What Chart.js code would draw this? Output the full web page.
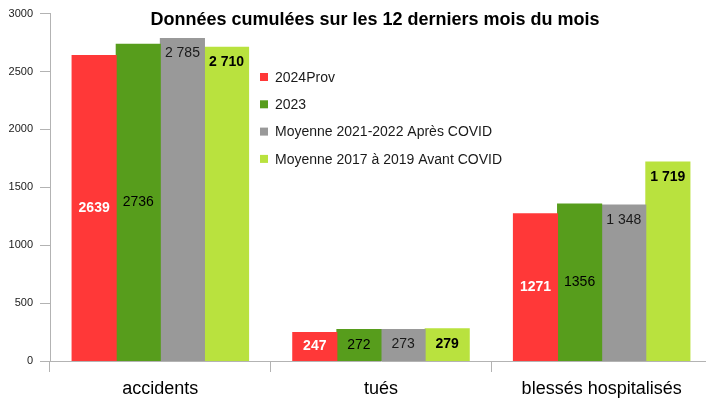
<!DOCTYPE html>
<html>
<head>
<meta charset="utf-8">
<script src="https://cdn.jsdelivr.net/npm/chart.js@4"></script>
<style>
  html, body { margin: 0; padding: 0; background: #fff; overflow: hidden; }
  #wrap { width: 712px; height: 401px; position: relative; }
</style>
</head>
<body>
<div id="wrap"><canvas id="c"></canvas></div>
<script>
// données
var categories = ['accidents', 'tués', 'blessés hospitalisés'];
var seriesNames = ['2024Prov', '2023', 'Moyenne 2021-2022 Après COVID', 'Moyenne 2017 à 2019 Avant COVID'];
var v2024 = [2639, 247, 1271];
var v2023 = [2736, 272, 1356];
var vMoy2122 = [2785, 273, 1348];
var vMoy1719 = [2710, 279, 1719];
var yTicks = [0, 500, 1000, 1500, 2000, 2500, 3000];

var colors = ['#ff3838', '#579d1c', '#999999', '#b9e23e'];
var FONT = '"Liberation Sans", Arial, sans-serif';

// style des étiquettes par série : pos 'mid' = milieu de barre, 'top' = sous le haut
var labelStyle = [
  { pos: 'mid', color: '#ffffff', bold: true, sep: false },
  { pos: 'mid', color: '#000000', bold: false, sep: false },
  { pos: 'top', color: '#1a1a1a', bold: false, sep: true },
  { pos: 'top', color: '#000000', bold: true, sep: true }
];

function fmt(n, sep) {
  var s = String(n);
  return sep ? s.replace(/\B(?=(\d{3})+(?!\d))/g, ' ') : s;
}

var overlay = {
  id: 'overlay',
  afterDatasetsDraw: function(chart) {
    var ctx = chart.ctx;
    ctx.save();
    ctx.textAlign = 'center';
    ctx.textBaseline = 'middle';
    chart.data.datasets.forEach(function(ds, i) {
      var st = labelStyle[i];
      chart.getDatasetMeta(i).data.forEach(function(el, j) {
        var y = st.pos === 'mid' ? (el.y + el.base) / 2 : el.y + 15;
        ctx.font = (st.bold ? 'bold ' : '') + '14px ' + FONT;
        ctx.fillStyle = st.color;
        ctx.fillText(fmt(ds.data[j], st.sep), el.x, y);
      });
    });

    // titre
    ctx.font = 'bold 18px ' + FONT;
    ctx.fillStyle = '#000';
    ctx.fillText('Données cumulées sur les 12 derniers mois du mois', 375, 20);

    // légende
    ctx.textAlign = 'left';
    ctx.font = '14px ' + FONT;
    chart.data.datasets.forEach(function(ds, i) {
      var y = 77 + i * 27.3;
      ctx.fillStyle = ds.backgroundColor;
      ctx.fillRect(260, y - 4, 8, 8);
      ctx.fillStyle = '#1a1a1a';
      ctx.fillText(ds.label, 275, y + 1);
    });
    ctx.restore();
  }
};

var allValues = [v2024, v2023, vMoy2122, vMoy1719];

new Chart(document.getElementById('c'), {
  type: 'bar',
  data: {
    labels: categories,
    datasets: allValues.map(function(vals, i) {
      return {
        label: seriesNames[i],
        data: vals,
        backgroundColor: colors[i],
        borderWidth: 0,
        inflateAmount: 0.5,
        categoryPercentage: 0.8,
        barPercentage: 1.0
      };
    })
  },
  options: {
    responsive: true,
    maintainAspectRatio: false,
    animation: false,
    layout: { padding: { top: 12, right: 0, left: 0, bottom: 0 } },
    plugins: {
      legend: { display: false },
      tooltip: { enabled: false },
      title: { display: false }
    },
    scales: {
      x: {
        grid: { drawOnChartArea: false, drawTicks: true, tickLength: 11, color: '#b3b3b3', offset: true },
        border: { color: '#b3b3b3', width: 1 },
        ticks: { color: '#000', font: { family: FONT, size: 18 }, padding: 6 },
        afterFit: function(s) { s.height = 40; }
      },
      y: {
        min: 0,
        max: 3000,
        afterBuildTicks: function(s) { s.ticks = yTicks.map(function(v) { return { value: v }; }); },
        grid: { drawOnChartArea: false, drawTicks: true, tickLength: 10, color: '#b3b3b3' },
        border: { color: '#b3b3b3', width: 1 },
        ticks: {
          color: '#1a1a1a', font: { family: FONT, size: 11 }, padding: 7,
          callback: function(v) { return String(v); }
        },
        afterFit: function(s) { s.width = 50; }
      }
    }
  },
  plugins: [overlay]
});
</script>
</body>
</html>
